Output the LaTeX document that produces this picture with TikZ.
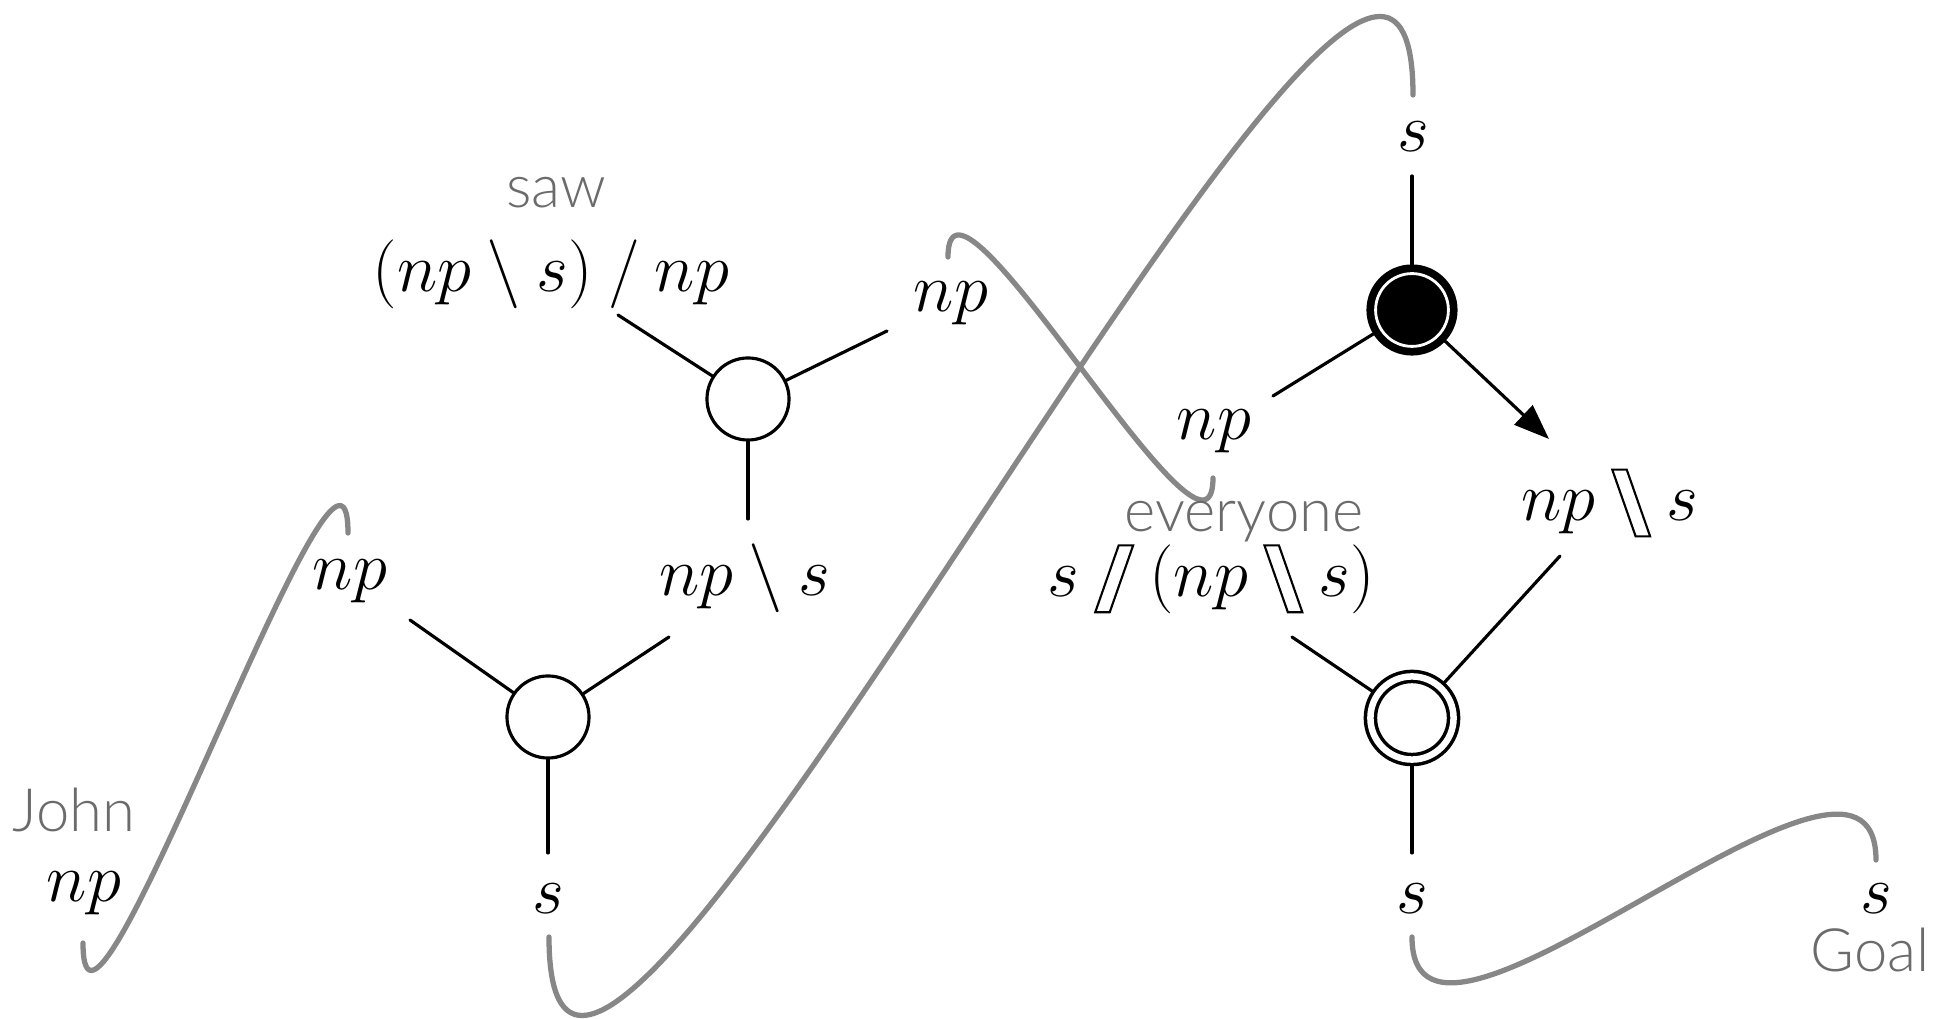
\RequirePackage{fix-cm}
\documentclass[tikz,border=0pt]{standalone}
\usepackage{amsmath,amssymb}
\usepackage{fontspec}
\newfontfamily\wordfont{Lato Light}
\usetikzlibrary{arrows.meta}

\definecolor{wordgray}{gray}{0.42}
\definecolor{linkgray}{gray}{0.53}

% hollow slashes
\newcommand\holfwd{\tikz[baseline=0pt,x=1em,y=1em,line width=0.6pt,line join=miter]\draw (0,-0.23) -- (0.21,-0.23) -- (0.55,0.74) -- (0.34,0.74) -- cycle;}
\newcommand\holbwd{\tikz[baseline=0pt,x=1em,y=1em,line width=0.6pt,line join=miter]\draw (0,0.74) -- (0.21,0.74) -- (0.55,-0.23) -- (0.34,-0.23) -- cycle;}

\begin{document}
\begin{tikzpicture}[x=0.01cm,y=-0.01cm,line cap=round,line join=round,
  type/.style={font=\fontsize{19.6}{23}\selectfont,inner sep=0pt},
  word/.style={font=\wordfont\fontsize{17}{20}\selectfont,text=wordgray,inner sep=0pt},
  cell/.style={circle,draw,line width=0.9pt,minimum size=0.82cm,inner sep=0pt},
  link/.style={draw=linkgray,line width=1.5pt},
  edge/.style={line width=0.9pt}]
\useasboundingbox (0,0) rectangle (1938,1019);
% links
\coordinate (j1) at (83,943); \coordinate (j2) at (348,533);
\coordinate (s1) at (549,937); \coordinate (s2) at (1413,95);
\coordinate (n1) at (948,257); \coordinate (n2) at (1213,478);
\coordinate (g1) at (1412,937); \coordinate (g2) at (1876,860);
\draw[link] (j1) .. controls +(0,180) and +(0,-180) .. (j2);
\draw[link] (s1) .. controls +(0,465) and +(0,-465) .. (s2);
\draw[link] (n1) .. controls +(0,-128) and +(0,128) .. (n2);
\draw[link] (g1) .. controls +(0,185) and +(0,-185) .. (g2);
% cells
\node[cell] (saw) at (748,399) {};
\node[cell] (subj) at (548,717) {};
\node[cell,fill=black,line width=2.2pt,double=white,double distance=0.8pt,minimum size=0.728cm,outer sep=0.091cm] (focus) at (1412,310) {};
\node[cell,line width=1pt,double,double distance=1.85pt,minimum size=0.831cm,outer sep=0.0675cm] (ev) at (1412,718) {};
% types and words
\node[word] (sawword) at (556,193) {saw};
\node[type] (sawtype) at (551,274) {$(np \mathbin{\backslash} s) \mathbin{/} np$};
\node[type] (sawobj) at (951,303) {$np$};
\node[type] (sawout) at (745,578) {$np \mathbin{\backslash} s$};
\node[type] (subjin) at (350,581) {$np$};
\node[type] (subjout) at (548,899) {$s$};
\node[word] (johnword) at (74,810) {John};
\node[type] (johntype) at (84,893) {$np$};
\node[type] (focusout) at (1413,137) {$s$};
\node[type] (focushole) at (1214,431) {$np$};
\node[type] (focusin) at (1610,503) {$np \mathbin{\holbwd} s$};
\node[word] (evword) at (1244,522) {everyone};
\node[type] (evtype) at (1211,579) {$s \mathbin{\holfwd} (np \mathbin{\holbwd} s)$};
\node[type] (evout) at (1412,899) {$s$};
\node[type] (goaltype) at (1876,899) {$s$};
\node[word] (goalword) at (1870,950) {Goal};
% edges
\coordinate (sawA) at (618,315); \coordinate (sawB) at (887,331); \coordinate (sawC) at (748,519);
\coordinate (subjA) at (410,620); \coordinate (subjB) at (669,637); \coordinate (subjC) at (548,853);
\coordinate (focusA) at (1412,176); \coordinate (focusB) at (1273,396); \coordinate (focusC) at (1549,439);
\coordinate (evA) at (1292,637); \coordinate (evB) at (1560,556); \coordinate (evC) at (1412,853);
\foreach \c in {saw,subj,ev} {\foreach \e in {A,B,C} {\draw[edge] (\c) -- (\c\e);}}
\draw[edge] (focus) -- (focusA);
\draw[edge] (focus) -- (focusB);
\draw[edge,-{Triangle[length=10pt,width=7.5pt]}] (focus) -- (focusC);
\end{tikzpicture}
\end{document}
